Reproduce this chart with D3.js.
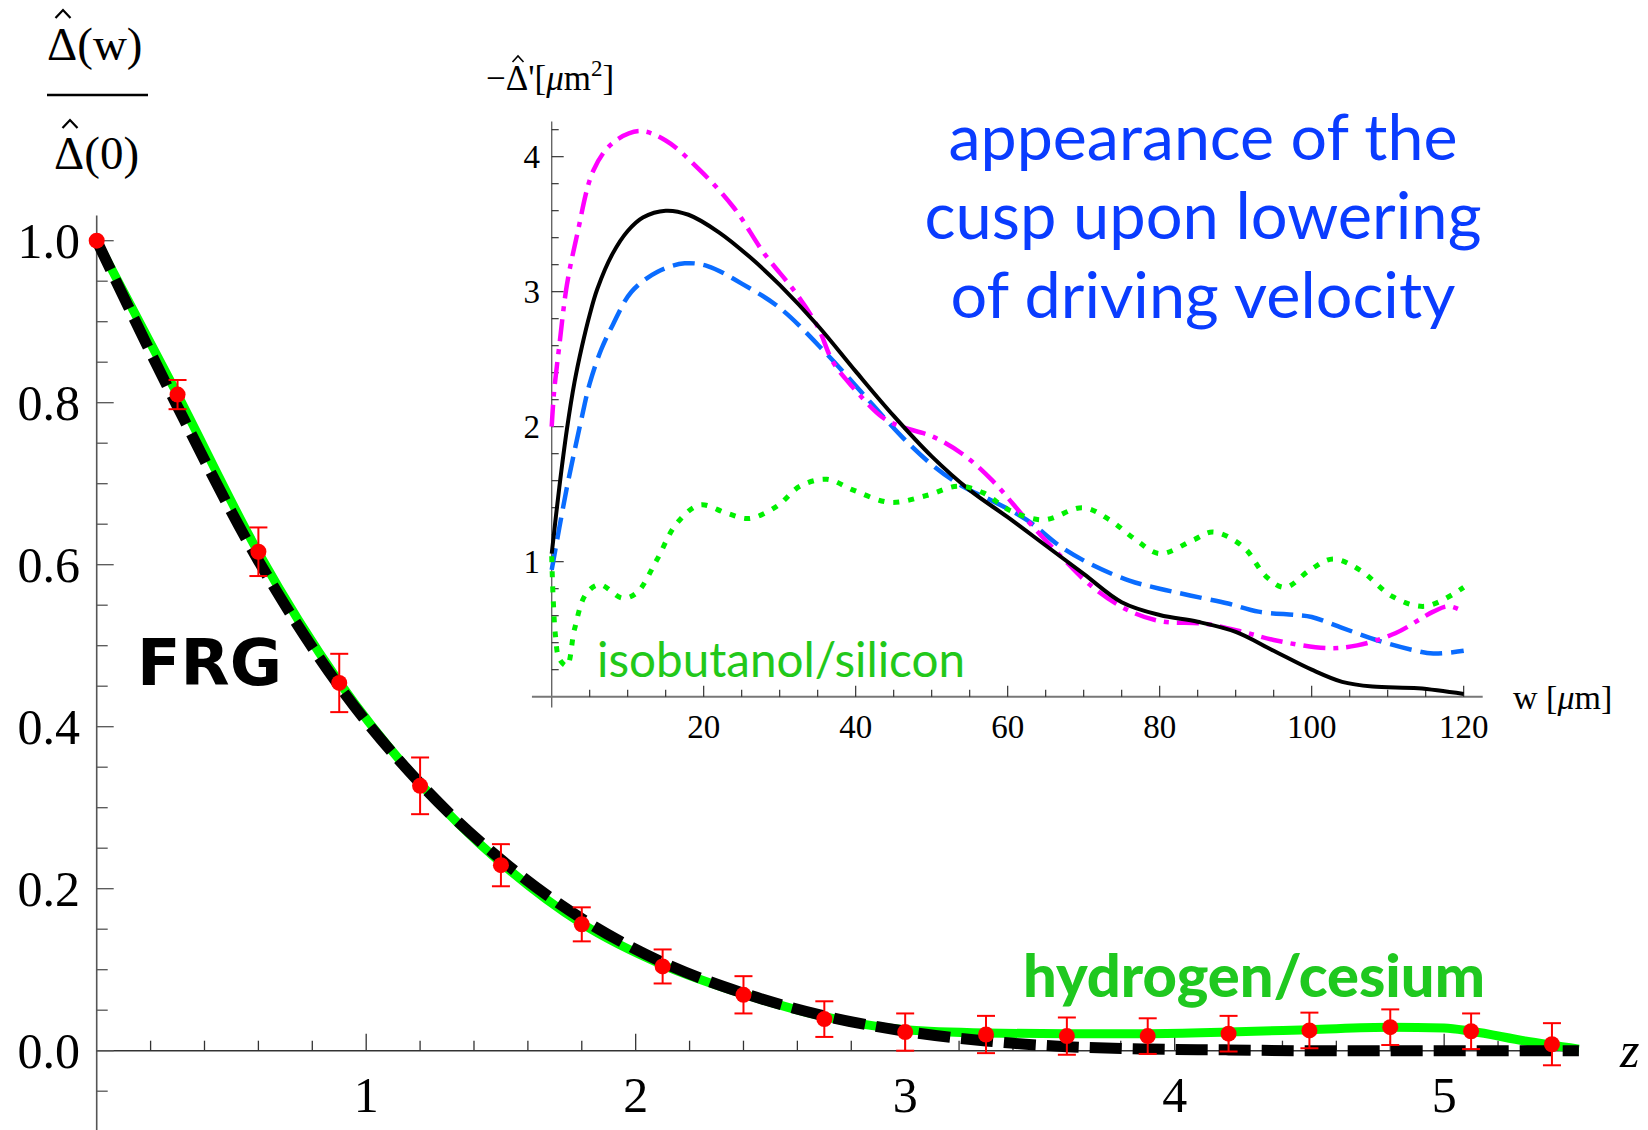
<!DOCTYPE html>
<html>
<head>
<meta charset="utf-8">
<script src="https://cdn.jsdelivr.net/npm/d3@7"></script>
<style>
  html, body { margin: 0; padding: 0; background: #fff; }
  svg { display: block; }
</style>
</head>
<body>
<div id="chart"></div>
<script>
// ---- main plot data (z, normalised Delta) ----
const pointZ   = [0, 0.3, 0.6, 0.9, 1.2, 1.5, 1.8, 2.1, 2.4, 2.7, 3.0, 3.3, 3.6, 3.9, 4.2, 4.5, 4.8, 5.1, 5.4];
const pointVal = [1.0, 0.81, 0.616, 0.454, 0.327, 0.229, 0.156, 0.104, 0.069, 0.039, 0.023, 0.02, 0.018, 0.018, 0.021, 0.025, 0.029, 0.024, 0.008];
const pointErr = [0, 0.018, 0.03, 0.036, 0.035, 0.026, 0.021, 0.021, 0.023, 0.022, 0.023, 0.023, 0.023, 0.022, 0.022, 0.022, 0.022, 0.022, 0.026];

const greenZ   = [0, 0.3, 0.6, 0.9, 1.2, 1.5, 1.8, 2.1, 2.4, 2.7, 3.0, 3.3, 3.6, 3.9, 4.2, 4.5, 4.8, 5.0, 5.1, 5.3, 5.5];
const greenVal = [1.0, 0.81, 0.615, 0.455, 0.33, 0.232, 0.157, 0.106, 0.07, 0.042, 0.026, 0.022, 0.021, 0.021, 0.023, 0.026, 0.029, 0.028, 0.024, 0.012, 0.002];

const frgZ   = [0, 0.3, 0.6, 0.9, 1.2, 1.5, 1.8, 2.1, 2.4, 2.7, 3.0, 3.3, 3.6, 3.9, 4.2, 4.5, 5.0, 5.5];
const frgVal = [1.0, 0.795, 0.605, 0.45, 0.33, 0.236, 0.163, 0.109, 0.071, 0.043, 0.024, 0.012, 0.005, 0.002, 0.001, 0, 0, 0];

const mainXTicks = [1, 2, 3, 4, 5];
const mainYTicks = [0, 0.2, 0.4, 0.6, 0.8, 1.0];

// ---- inset data (w in micron, -Delta') ----
const blackW = [0, 1, 2, 3, 4, 5, 6, 8, 10, 12, 15, 18, 22, 26, 30, 35, 40, 45, 50, 55, 60, 65, 70, 75, 80, 85, 90, 95, 100, 104, 108, 114, 120];
const blackV = [1.06, 1.55, 1.98, 2.33, 2.6, 2.83, 3.02, 3.28, 3.45, 3.55, 3.6, 3.57, 3.44, 3.26, 3.05, 2.75, 2.41, 2.08, 1.78, 1.53, 1.33, 1.12, 0.91, 0.7, 0.605, 0.555, 0.48, 0.34, 0.2, 0.11, 0.075, 0.062, 0.02];

const magentaW = [0, 0.3, 1, 2, 3.3, 5.5, 8, 11.5, 15, 19.5, 24, 28, 32, 35, 37, 39.5, 43.5, 46, 50, 54, 58, 62.5, 67, 71, 75.5, 80, 86, 91, 95, 102, 106, 111, 116, 118, 120];
const magentaV = [2.0, 2.25, 2.6, 3.05, 3.41, 3.9, 4.1, 4.19, 4.12, 3.9, 3.62, 3.28, 3.0, 2.74, 2.48, 2.3, 2.07, 2.0, 1.93, 1.8, 1.6, 1.31, 1.04, 0.82, 0.65, 0.56, 0.54, 0.48, 0.42, 0.36, 0.38, 0.47, 0.63, 0.67, 0.63];

const blueW = [0, 1, 2, 3, 4, 5, 6.5, 8, 10.5, 14, 17.5, 20.5, 25, 30, 36, 41, 46, 50, 54, 58, 62.5, 67, 71, 76, 80, 84, 89, 93, 98, 100, 104, 108.5, 113, 116, 120];
const blueV = [0.94, 1.25, 1.55, 1.82, 2.08, 2.32, 2.57, 2.75, 3.0, 3.15, 3.21, 3.19, 3.06, 2.88, 2.55, 2.24, 1.93, 1.72, 1.56, 1.45, 1.31, 1.11, 0.98, 0.86, 0.8, 0.75, 0.69, 0.63, 0.605, 0.59, 0.51, 0.42, 0.35, 0.32, 0.34];

const greenDotW = [0, 0.2, 0.5, 1, 2, 3, 4.5, 6.3, 9.3, 11.2, 13.8, 16.4, 19.5, 23, 26, 29.6, 32.7, 36.2, 39.7, 44.5, 49.3, 53.5, 56.8, 60.3, 64.7, 69.9, 73.4, 76.9, 80, 84.4, 87, 91, 94, 96.5, 99.8, 102.8, 106.3, 110.7, 115, 120];
const greenDotV = [1.04, 0.72, 0.45, 0.28, 0.23, 0.5, 0.76, 0.83, 0.73, 0.77, 1.01, 1.28, 1.42, 1.36, 1.32, 1.41, 1.56, 1.61, 1.53, 1.44, 1.49, 1.56, 1.51, 1.38, 1.31, 1.4, 1.31, 1.16, 1.06, 1.16, 1.22, 1.11, 0.89, 0.81, 0.94, 1.02, 0.94, 0.74, 0.67, 0.81];

const insetXTicks = [20, 40, 60, 80, 100, 120];
const insetYTicks = [1, 2, 3, 4];

const W = 1648, H = 1130;
const serif = "'Liberation Serif', 'DejaVu Serif', serif";
const sans = "Lato, 'Open Sans', sans-serif";

const svg = d3.select("#chart").append("svg")
  .attr("width", W)
  .attr("height", H);

function zip(a, b) { return a.map((d, i) => [d, b[i]]); }

// shrink/grow font so a label takes the width seen in the picture
function fit(sel, width) {
  const n = sel.node();
  const fs = parseFloat(sel.attr("font-size"));
  const w = n.getComputedTextLength();
  sel.attr("font-size", (fs * width / w).toFixed(2));
}

// little circumflex drawn over a Delta
function hat(g, cx, cy, w, h, sw) {
  g.append("path")
    .attr("d", `M${cx - w / 2},${cy + h} L${cx},${cy} L${cx + w / 2},${cy + h}`)
    .attr("fill", "none").attr("stroke", "#000").attr("stroke-width", sw);
}

// ================= main plot =================
const x = d3.scaleLinear().domain([0, 5.5]).range([96.7, 1578.9]);
const y = d3.scaleLinear().domain([0, 1]).range([1050.7, 240.7]);

const axisG = svg.append("g");
axisG.append("line")
  .attr("x1", x(0)).attr("x2", x(0))
  .attr("y1", y(1.031)).attr("y2", H)
  .attr("stroke", "#555").attr("stroke-width", 1.6);
axisG.append("line")
  .attr("x1", x(0)).attr("x2", x(5.5))
  .attr("y1", y(0)).attr("y2", y(0))
  .attr("stroke", "#333").attr("stroke-width", 1.6);

// x ticks (every 0.2, major at integers)
d3.range(1, 28).map(i => i * 0.2).forEach(t => {
  const major = Math.abs(t - Math.round(t)) < 1e-6;
  axisG.append("line")
    .attr("x1", x(t)).attr("x2", x(t))
    .attr("y1", y(0)).attr("y2", y(0) - (major ? 17 : 10))
    .attr("stroke", "#333").attr("stroke-width", 1.3);
});
// y ticks (every 0.05, major every 0.2)
d3.range(-2, 21).map(i => i * 0.05).forEach(t => {
  const major = Math.abs(t / 0.2 - Math.round(t / 0.2)) < 1e-6 && t >= 0;
  axisG.append("line")
    .attr("x1", x(0)).attr("x2", x(0) + (major ? 17 : 11))
    .attr("y1", y(t)).attr("y2", y(t))
    .attr("stroke", "#555").attr("stroke-width", 1.3);
});

axisG.selectAll(".ylab").data(mainYTicks).join("text")
  .attr("x", 80).attr("y", d => y(d) + 17)
  .attr("text-anchor", "end")
  .attr("font-family", serif).attr("font-size", 50)
  .text(d => d.toFixed(1));
axisG.selectAll(".xlab").data(mainXTicks).join("text")
  .attr("x", d => x(d)).attr("y", 1112)
  .attr("text-anchor", "middle")
  .attr("font-family", serif).attr("font-size", 50)
  .text(d => d);
axisG.append("text")
  .attr("x", 1620).attr("y", 1067)
  .attr("font-family", serif).attr("font-style", "italic").attr("font-size", 50)
  .text("z");

// y-axis label: fraction
const frac = svg.append("g").attr("font-family", serif).attr("font-size", 47);
frac.append("text").attr("x", 47).attr("y", 60).text("Δ(w)");
hat(frac, 63, 10, 15, 8, 2.2);
frac.append("line").attr("x1", 47).attr("x2", 148).attr("y1", 95).attr("y2", 95)
  .attr("stroke", "#000").attr("stroke-width", 2.5);
frac.append("text").attr("x", 54).attr("y", 169).text("Δ(0)");
hat(frac, 70, 120, 15, 8, 2.2);

const mainLine = d3.line()
  .x(d => x(d[0]))
  .y(d => y(d[1]))
  .curve(d3.curveMonotoneX);

svg.append("path")
  .datum(zip(greenZ, greenVal))
  .attr("d", mainLine)
  .attr("fill", "none")
  .attr("stroke", "#00ff00")
  .attr("stroke-width", 9);

svg.append("path")
  .datum(zip(frgZ, frgVal))
  .attr("d", mainLine)
  .attr("fill", "none")
  .attr("stroke", "#000")
  .attr("stroke-width", 11)
  .attr("stroke-dasharray", "32,11");

// error bars and points
const pts = pointZ.map((z, i) => ({ z: z, v: pointVal[i], e: pointErr[i] }));
const eb = svg.append("g").attr("stroke", "#ff0000").attr("stroke-width", 2);
pts.filter(d => d.e > 0).forEach(d => {
  eb.append("line").attr("x1", x(d.z)).attr("x2", x(d.z))
    .attr("y1", y(d.v - d.e)).attr("y2", y(d.v + d.e));
  eb.append("line").attr("x1", x(d.z) - 9).attr("x2", x(d.z) + 9)
    .attr("y1", y(d.v - d.e)).attr("y2", y(d.v - d.e));
  eb.append("line").attr("x1", x(d.z) - 9).attr("x2", x(d.z) + 9)
    .attr("y1", y(d.v + d.e)).attr("y2", y(d.v + d.e));
});
svg.append("g").selectAll("circle").data(pts).join("circle")
  .attr("cx", d => x(d.z))
  .attr("cy", d => y(d.v))
  .attr("r", 8)
  .attr("fill", "#ff0000");

const frg = svg.append("text")
  .attr("x", 137).attr("y", 685)
  .attr("font-family", "'DejaVu Sans', sans-serif")
  .attr("font-weight", "bold").attr("font-size", 66)
  .text("FRG");
fit(frg, 145);

const hc = svg.append("text")
  .attr("x", 1023).attr("y", 997)
  .attr("font-family", sans).attr("font-weight", "900").attr("font-size", 52)
  .attr("fill", "#1fc81f")
  .text("hydrogen/cesium");
fit(hc, 462);

// ================= inset =================
const ix = d3.scaleLinear().domain([0, 120]).range([551.7, 1463.7]);
const iy = d3.scaleLinear().domain([0, 4]).range([696.7, 156.7]);

const ig = svg.append("g");
ig.append("line")
  .attr("x1", ix(0)).attr("x2", ix(0))
  .attr("y1", iy(4.26)).attr("y2", iy(-0.08))
  .attr("stroke", "#666").attr("stroke-width", 1.4);
ig.append("line")
  .attr("x1", ix(-2.6)).attr("x2", ix(122.5))
  .attr("y1", iy(0)).attr("y2", iy(0))
  .attr("stroke", "#777").attr("stroke-width", 2);

d3.range(1, 25).map(i => i * 5).forEach(t => {
  const major = t % 20 === 0;
  ig.append("line")
    .attr("x1", ix(t)).attr("x2", ix(t))
    .attr("y1", iy(0)).attr("y2", iy(0) - (major ? 11 : 7))
    .attr("stroke", "#222").attr("stroke-width", 1.1);
});
d3.range(1, 22).map(i => i * 0.2).forEach(t => {
  const major = Math.abs(t - Math.round(t)) < 1e-6;
  ig.append("line")
    .attr("x1", ix(0)).attr("x2", ix(0) + (major ? 12 : 7))
    .attr("y1", iy(t)).attr("y2", iy(t))
    .attr("stroke", "#222").attr("stroke-width", 1.1);
});

ig.selectAll(".iyl").data(insetYTicks).join("text")
  .attr("x", 540).attr("y", d => iy(d) + 11)
  .attr("text-anchor", "end")
  .attr("font-family", serif).attr("font-size", 33)
  .text(d => d);
ig.selectAll(".ixl").data(insetXTicks).join("text")
  .attr("x", d => ix(d)).attr("y", 738)
  .attr("text-anchor", "middle")
  .attr("font-family", serif).attr("font-size", 33)
  .text(d => d);

// inset axis labels
const ylab = ig.append("text")
  .attr("x", 486).attr("y", 90)
  .attr("font-family", serif).attr("font-size", 35);
ylab.append("tspan").text("−Δ'[");
ylab.append("tspan").attr("font-style", "italic").text("μ");
ylab.append("tspan").text("m");
ylab.append("tspan").attr("font-size", 23).attr("dy", -14).text("2");
ylab.append("tspan").attr("dy", 14).text("]");
hat(ig, 518, 56, 11, 6, 1.6);

const xlab = ig.append("text")
  .attr("x", 1513).attr("y", 709)
  .attr("font-family", serif).attr("font-size", 34);
xlab.append("tspan").text("w [");
xlab.append("tspan").attr("font-style", "italic").text("μ");
xlab.append("tspan").text("m]");

const insetLine = d3.line()
  .x(d => ix(d[0]))
  .y(d => iy(d[1]))
  .curve(d3.curveCatmullRom.alpha(0.5));

const series = [
  { w: blueW, v: blueV, color: "#0a6cff", width: 4.5, dash: "22,9" },
  { w: magentaW, v: magentaV, color: "#ff00ff", width: 4.5, dash: "22,8,5,8" },
  { w: blackW, v: blackV, color: "#000", width: 4, dash: null },
  { w: greenDotW, v: greenDotV, color: "#00f000", width: 5, dash: "6,9" }
];
series.forEach(s => {
  ig.append("path")
    .datum(zip(s.w, s.v))
    .attr("d", insetLine)
    .attr("fill", "none")
    .attr("stroke", s.color)
    .attr("stroke-width", s.width)
    .attr("stroke-dasharray", s.dash);
});

const iso = ig.append("text")
  .attr("x", 597).attr("y", 677)
  .attr("font-family", sans).attr("font-size", 45)
  .attr("fill", "#22c81a")
  .text("isobutanol/silicon");
fit(iso, 368);

// blue annotation
const blueLines = ["appearance of the", "cusp upon lowering", "of driving velocity"];
const blueWidths = [509, 557, 505];
blueLines.forEach((t, i) => {
  const el = svg.append("text")
    .attr("x", 1203).attr("y", 160 + i * 79)
    .attr("text-anchor", "middle")
    .attr("font-family", sans).attr("font-size", 60)
    .attr("fill", "#0a3cff")
    .text(t);
  fit(el, blueWidths[i]);
});
</script>
</body>
</html>
